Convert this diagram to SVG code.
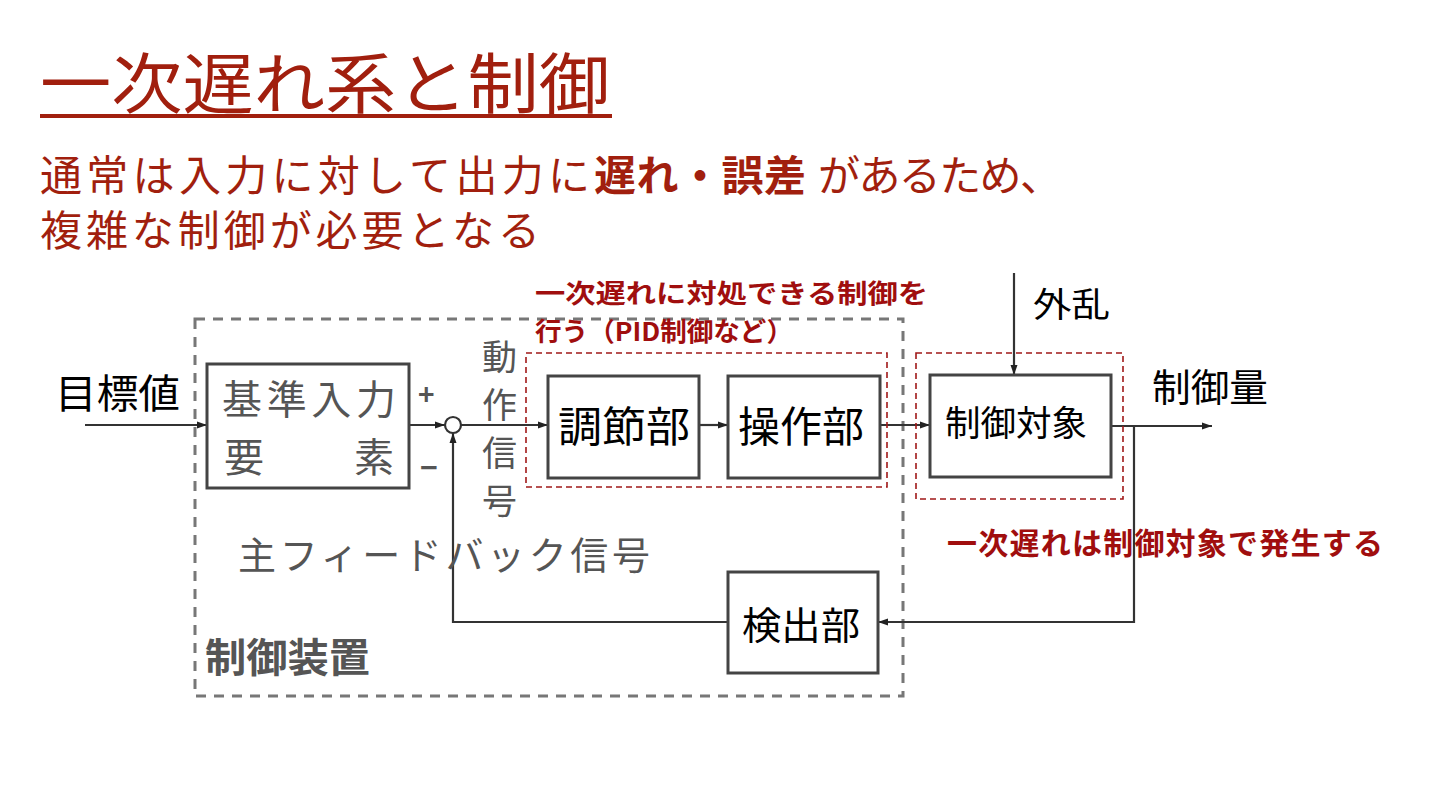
<svg xmlns="http://www.w3.org/2000/svg" width="1440" height="810" viewBox="0 0 1440 810">
<style>
.t{font-family:"Noto Sans CJK JP","Noto Sans",sans-serif}
.ttl{fill:#A11F0E;font-size:66px}
.sub{fill:#A11F0E;font-size:42px}
.red{fill:#A00E0E;font-weight:bold}
.blk{fill:#000}
.gry{fill:#555}
.box{fill:#fff;stroke:#444;stroke-width:3}
.ln{fill:none;stroke:#333;stroke-width:2.2}
.rd{fill:none;stroke:#A01818;stroke-width:1.6;stroke-dasharray:6 4}
.od{fill:none;stroke:#777;stroke-width:3;stroke-dasharray:10 8}
</style>
<defs>
<marker id="ah2" viewBox="0 0 10 10" refX="10" refY="5" markerWidth="14" markerHeight="10" orient="auto" markerUnits="userSpaceOnUse">
<path d="M0,1.5 L10,5 L0,8.5 z" fill="#222"/>
</marker>
</defs>
<rect width="1440" height="810" fill="#fff"/>

<g id="title">
<text class="t ttl" x="40" y="108" textLength="570" lengthAdjust="spacingAndGlyphs">一次遅れ系と制御</text>
<rect x="40" y="114" width="572" height="4" fill="#A11F0E"/>
</g>
<g id="subtitle">
<text class="t sub" x="40" y="191" textLength="550" lengthAdjust="spacing">通常は入力に対して出力に</text>
<text class="t sub" x="594" y="191" font-weight="bold" textLength="212" lengthAdjust="spacing">遅れ・誤差</text>
<text class="t sub" x="818" y="191" textLength="244" lengthAdjust="spacing">があるため、</text>
<text class="t sub" x="40" y="246" textLength="500" lengthAdjust="spacing">複雑な制御が必要となる</text>
</g>

<g id="control-device-frame">
<rect class="od" x="195" y="319" width="708" height="377"/>
<text class="t gry" x="205" y="672" font-size="40" font-weight="bold" textLength="165" lengthAdjust="spacingAndGlyphs">制御装置</text>
</g>

<g id="connectors">
<line class="ln" x1="85" y1="425" x2="207" y2="425" marker-end="url(#ah2)"/>
<line class="ln" x1="409" y1="425" x2="445" y2="425" marker-end="url(#ah2)"/>
<line class="ln" x1="461" y1="425" x2="548" y2="425" marker-end="url(#ah2)"/>
<line class="ln" x1="699" y1="425" x2="728" y2="425" marker-end="url(#ah2)"/>
<line class="ln" x1="880" y1="425" x2="930" y2="425" marker-end="url(#ah2)"/>
<line class="ln" x1="1014" y1="273" x2="1014" y2="375" marker-end="url(#ah2)"/>
<line class="ln" x1="1111" y1="426" x2="1212" y2="426" marker-end="url(#ah2)"/>
<polyline class="ln" points="1134,426 1134,622 878,622" marker-end="url(#ah2)"/>
<polyline class="ln" points="728,622 453,622 453,433" marker-end="url(#ah2)"/>
</g>

<g id="target-value">
<text class="t blk" x="55" y="408" font-size="40" textLength="125" lengthAdjust="spacingAndGlyphs">目標値</text>
</g>

<g id="reference-input-element">
<rect class="box" x="207" y="364" width="202" height="124"/>
<text class="t gry" x="222" y="414" font-size="40" textLength="174" lengthAdjust="spacing">基準入力</text>
<text class="t gry" x="224" y="472" font-size="40">要</text>
<text class="t gry" x="354" y="472" font-size="40">素</text>
</g>

<g id="summing-junction">
<circle cx="453" cy="425" r="8" fill="#fff" stroke="#333" stroke-width="2.2"/>
<text class="t gry" x="418" y="405" font-size="28" font-weight="bold">+</text>
<text class="t gry" x="420" y="479" font-size="30" font-weight="bold">−</text>
</g>

<g id="actuating-signal">
<text class="t gry" x="482" y="370" font-size="35">動</text>
<text class="t gry" x="482" y="418" font-size="35">作</text>
<text class="t gry" x="482" y="466" font-size="35">信</text>
<text class="t gry" x="482" y="514" font-size="35">号</text>
</g>

<g id="pid-note">
<rect class="rd" x="526" y="353" width="361" height="134"/>
<text class="t red" x="535" y="303" font-size="26" textLength="393" lengthAdjust="spacingAndGlyphs">一次遅れに対処できる制御を</text>
<text class="t red" x="535" y="341" font-size="26" textLength="258" lengthAdjust="spacingAndGlyphs">行う（PID制御など）</text>
</g>

<g id="controller">
<rect class="box" x="548" y="376" width="151" height="102"/>
<text class="t blk" x="558" y="442" font-size="42" textLength="132" lengthAdjust="spacingAndGlyphs">調節部</text>
</g>

<g id="actuator">
<rect class="box" x="728" y="376" width="152" height="102"/>
<text class="t blk" x="738" y="442" font-size="42" textLength="126" lengthAdjust="spacingAndGlyphs">操作部</text>
</g>

<g id="plant">
<rect class="rd" x="916" y="353" width="207" height="146"/>
<rect class="box" x="930" y="375" width="181" height="102"/>
<text class="t blk" x="945" y="436" font-size="35" textLength="142" lengthAdjust="spacingAndGlyphs">制御対象</text>
</g>

<g id="disturbance">
<text class="t blk" x="1033" y="317" font-size="34" textLength="77" lengthAdjust="spacingAndGlyphs">外乱</text>
</g>

<g id="controlled-variable">
<text class="t blk" x="1152" y="401" font-size="38" textLength="116" lengthAdjust="spacingAndGlyphs">制御量</text>
</g>

<g id="detector">
<rect class="box" x="728" y="572" width="150" height="101"/>
<text class="t blk" x="742" y="639" font-size="38" textLength="118" lengthAdjust="spacingAndGlyphs">検出部</text>
</g>

<g id="feedback-label">
<text class="t gry" x="238" y="569" font-size="38" textLength="412" lengthAdjust="spacing">主フィードバック信号</text>
</g>

<g id="plant-note">
<text class="t red" x="947" y="554" font-size="30" textLength="436" lengthAdjust="spacing">一次遅れは制御対象で発生する</text>
</g>
</svg>
